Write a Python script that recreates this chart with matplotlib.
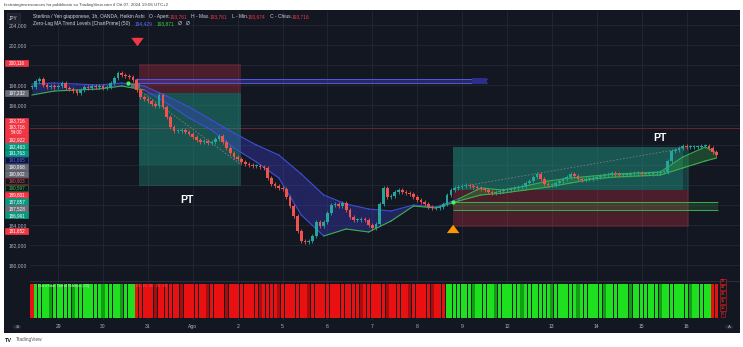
import matplotlib.pyplot as plt
from matplotlib.patches import Rectangle, Circle

W, H = 743, 347
BG = '#131722'
GRID = '#232734'
TXT = '#b2b5be'
UP = '#26a69a'
DN = '#ef5350'

# ---------------- data (2h Heikin Ashi closes, GBP/JPY) ----------------
closes = [
    197.8, 198.4, 198.6, 198.0, 197.8, 197.9, 197.8, 197.9, 198.2, 197.7,
    197.6, 197.4, 197.2, 197.5, 197.8, 197.7, 197.9, 197.8, 197.9, 197.7,
    197.8, 198.2, 198.7, 199.2, 199.0, 198.9, 198.8, 198.5, 197.5, 196.8,
    196.6, 196.4, 196.1, 195.9, 197.0, 195.8, 194.8, 193.8, 193.4, 193.4,
    193.5, 193.3, 193.1, 192.8, 192.5, 192.3, 192.4, 192.2, 192.3, 192.6,
    192.9, 192.3, 191.7, 191.2, 190.8, 190.6, 190.3, 190.1, 190.0, 189.9,
    189.9, 189.8, 189.7, 188.7, 188.1, 187.9, 187.7, 187.6, 186.8, 185.9,
    184.9, 183.4, 182.4, 182.3, 182.4, 182.9, 184.3, 183.9, 184.3, 185.2,
    186.0, 186.1, 185.9, 186.2, 185.5, 184.8, 184.5, 184.5, 184.6, 184.5,
    184.0, 183.7, 184.1, 186.1, 187.7, 186.8, 186.9, 187.3, 187.5, 187.3,
    187.2, 187.1, 186.8, 186.5, 186.3, 186.1, 185.8, 185.7, 185.7, 185.8,
    186.1, 187.0, 187.5, 187.7, 187.8, 187.9, 188.0, 187.9, 187.8, 187.7,
    187.6, 187.5, 187.3, 187.2, 187.3, 187.4, 187.5, 187.5, 187.6, 187.7,
    187.8, 187.9, 188.2, 188.4, 188.8, 189.1, 188.6, 188.1, 188.0, 188.0,
    188.2, 188.4, 188.6, 188.8, 189.1, 188.9, 188.6, 188.5, 188.6, 188.6,
    188.7, 188.8, 188.9, 189.0, 189.1, 189.2, 189.1, 189.0, 189.0, 189.0,
    189.1, 189.2, 189.2, 189.1, 189.1, 189.1, 189.2, 189.2, 189.3, 189.3,
    190.4, 191.4, 191.5, 191.7, 191.9, 191.8, 191.8, 191.8, 191.8, 191.9,
    191.9, 191.7, 191.3, 191.0,
]

# Zero-Lag MA Trend Levels band (anchor bars)
band_idx = [0, 6, 12, 18, 24, 30, 36, 42, 48, 54, 60, 66, 72, 78, 84, 90,
            96, 102, 108, 114, 120, 126, 132, 138, 144, 150, 156, 162, 168,
            174, 180, 183]
band_upper = [198.1, 198.2, 198.1, 198.0, 198.2, 197.9, 196.9, 195.8, 194.5,
              193.2, 192.0, 191.0, 189.1, 187.0, 186.1, 185.6, 185.4, 186.0,
              185.8, 186.6, 187.7, 187.5, 187.9, 188.4, 188.7, 188.9, 189.1,
              189.2, 189.3, 190.8, 191.8, 191.2]
band_lower = [197.0, 197.4, 197.5, 197.6, 197.9, 197.5, 196.2, 194.7, 193.5,
              191.7, 190.3, 188.7, 185.0, 182.9, 183.6, 183.3, 184.4, 185.9,
              185.7, 186.4, 187.0, 187.2, 187.5, 187.8, 188.2, 188.6, 188.8,
              188.9, 189.0, 189.7, 190.4, 190.7]
upper_trend = [-1] * 19 + [1] * 13
lower_trend = [1] * 5 + [-1] * 8 + [1] * 19

# trend levels (boxes)
short_level = (198.17, 198.57, 27.5, 121.7)
long_level = (185.47, 186.30, 112.6, 183.4)

# position tools
short_entry, short_stop, short_tp, short_reach = 197.23, 200.12, 187.86, 190.0
short_span = (28.6, 56.0)
long_entry, long_stop, long_tp = 187.53, 183.80, 191.76
long_span = (112.6, 175.7)
long_hit = 174.1
last_price = 193.716

# Donchian trend ribbon runs (bars, direction)
ribbon_runs = [(1, -1), (27, 1), (83, -1), (71, 1), (2, -1)]
weak_bars = [5, 11, 19, 24, 33, 40, 47, 52, 61, 66, 74, 88, 95, 101, 107,
             118, 124, 131, 139, 146, 153, 160, 168, 176]

day_labels = ['29', '30', '31', 'Ago', '2', '5', '6', '7', '8', '9', '12',
              '13', '14', '15', '16']
price_ticks = [180, 182, 184, 186, 188, 190, 192, 194, 196, 198, 200, 202, 204]
hidden_ticks = [186, 188, 190, 192, 194, 200]

# price scale labels (value, kind) and their stacked pixel rows
label_values = ['200,116', '197,232', '193,716', '193,716\n54:00', '192,922',
                '192,463', '191,763', '191,665', '190,968', '190,902',
                '190,803', '190,597', '189,801', '187,857', '187,528',
                '186,991', '181,652']
label_kinds = ['red', 'gray', 'red', 'red', 'red', 'green', 'green', 'blue_o',
               'gray', 'gray', 'red_o', 'green_o', 'red', 'green', 'gray',
               'green', 'red']
label_rows = [62.7, 92.7, 120.7, 130.0, 139.4, 146.3, 153.2, 160.1, 167.0,
              173.9, 180.8, 187.7, 194.6, 201.5, 208.4, 215.3, 231.0]

plt.rcParams['font.family'] = ['Liberation Sans', 'DejaVu Sans']


def fx(x):
    return x / W


def fy(y):
    return 1 - y / H


fig = plt.figure(figsize=(W / 100, H / 100), dpi=100, facecolor='white')
fig.add_artist(Rectangle((fx(4), fy(333)), fx(740) - fx(4), fy(10) - fy(333),
                         transform=fig.transFigure, facecolor=BG,
                         edgecolor='none', zorder=-10))

ax = fig.add_axes([fx(30), fy(281), fx(740) - fx(30), fy(11) - fy(281)])
ax2 = fig.add_axes([fx(30), fy(320), fx(740) - fx(30), fy(281) - fy(320)])
xlim = (-0.53, 189.3)
day_pos = [7 + 12 * i for i in range(len(day_labels))]

for a in (ax, ax2):
    a.set_facecolor(BG)
    a.set_xlim(*xlim)
    for s in a.spines.values():
        s.set_visible(False)
    for d in day_pos:
        a.axvline(d, color=GRID, lw=0.6, zorder=0)

# ---------------- main pane ----------------
ax.set_ylim(178.4, 205.4)
ax.set_yticks(price_ticks)
ax.set_yticklabels(['' if p in hidden_ticks else f'{p},000' for p in price_ticks])
ax.tick_params(axis='y', length=0, pad=2, labelsize=3.6, labelcolor=TXT)
ax.set_xticks([])
for p in price_ticks:
    ax.axhline(p, color=GRID, lw=0.6, zorder=0)

ax.axhline(last_price, color='#6e2230', lw=0.7, zorder=1)

# position tools
x0, x1 = short_span
ax.add_patch(Rectangle((x0, short_entry), x1 - x0, short_stop - short_entry,
                       facecolor='#f23645', alpha=0.25, lw=0, zorder=1))
ax.add_patch(Rectangle((x0, short_tp), x1 - x0, short_entry - short_tp,
                       facecolor='#22ab94', alpha=0.28, lw=0, zorder=1))
ax.add_patch(Rectangle((x0, short_reach), x1 - x0, short_entry - short_reach,
                       facecolor='#22ab94', alpha=0.18, lw=0, zorder=1))
ax.plot([x0, x1], [short_entry + 0.3, short_reach], color='#787b86', lw=0.6,
        ls=(0, (2, 2)), zorder=3)

x0, x1 = long_span
ax.add_patch(Rectangle((x0, long_stop), x1 - x0, long_entry - long_stop,
                       facecolor='#f23645', alpha=0.25, lw=0, zorder=1))
ax.add_patch(Rectangle((x0, long_entry), long_hit - x0, long_tp - long_entry,
                       facecolor='#22ab94', alpha=0.42, lw=0, zorder=1))
ax.add_patch(Rectangle((long_hit, long_entry), x1 - long_hit,
                       long_tp - long_entry, facecolor='#22ab94', alpha=0.25,
                       lw=0, zorder=1))
ax.plot([x0 + 5, long_hit], [long_entry + 0.5, long_tp - 0.1],
        color='#787b86', lw=0.6, ls=(0, (2, 2)), zorder=3)

# zero-lag band
for j in range(len(band_idx) - 1):
    xs = band_idx[j:j + 2]
    up = band_upper[j:j + 2]
    lo = band_lower[j:j + 2]
    fill = '#3f3fd0' if upper_trend[j] < 0 else '#2e9e45'
    ax.fill_between(xs, lo, up, color=fill, alpha=0.35, lw=0, zorder=2)
    ax.plot(xs, up, color='#3d4fd6' if upper_trend[j] < 0 else '#3cb04e',
            lw=0.8, zorder=3)
    ax.plot(xs, lo, color='#3d4fd6' if lower_trend[j] < 0 else '#3cb04e',
            lw=0.8, zorder=3)

# trend levels
lo, hi, a0, a1 = short_level
ax.fill_between([a0, a1], lo, hi, color='#4a4ad8', alpha=0.35, lw=0, zorder=2)
ax.hlines([lo, hi], a0, a1, color='#5656e0', lw=0.7, zorder=3)
ax.add_patch(Rectangle((a1 - 4, lo - 0.1), 4, hi - lo + 0.2,
                       facecolor='#2b2f8a', lw=0, zorder=3))
lo, hi, a0, a1 = long_level
ax.fill_between([a0, a1], lo, hi, color='#3cb04e', alpha=0.2, lw=0, zorder=2)
ax.hlines([lo, hi], a0, a1, color='#3cb04e', lw=0.7, zorder=3)
ax.add_patch(Rectangle((26.5, 197.7), 2.4, 0.5, facecolor='#6a8a7a',
                       alpha=0.7, lw=0, zorder=4))
ax.plot([25.7, long_level[2]], [198.2, long_level[1]], 'o', ms=2,
        color='#40ff40', zorder=6)

# candles
idx = list(range(len(closes)))
for k in idx:
    c = closes[k]
    o = closes[k - 1] if k else c
    hi = max(o, c) + 0.2
    lo = min(o, c) - 0.2
    col = UP if c >= o else DN
    ax.vlines(k, lo, hi, color=col, lw=0.6, zorder=4)
    ax.bar(k, max(abs(c - o), 0.08), bottom=min(o, c), width=0.72,
           color=col, lw=0, zorder=5)

# markers and texts
ax.annotate('', xy=(28.2, 201.6), xytext=(28.2, 203.0),
            arrowprops=dict(arrowstyle='simple,head_width=0.9,head_length=0.6,tail_width=0.45',
                            color='#f23645', lw=0), zorder=6)
ax.annotate('', xy=(112.6, 184.3), xytext=(112.6, 183.1),
            arrowprops=dict(arrowstyle='simple,head_width=0.9,head_length=0.6,tail_width=0.45',
                            color='#ff9800', lw=0), zorder=6)
ax.text(41.4, 186.5, 'PT', color='white', fontsize=7.5, fontweight='bold',
        ha='center', va='center', zorder=7)
ax.text(167.9, 192.7, 'PT', color='white', fontsize=7.5, fontweight='bold',
        ha='center', va='center', zorder=7)

# ---------------- ribbon pane ----------------
ax2.set_ylim(-0.059, 1.088)
ax2.set_yticks([])
ribbon = []
for n, d in ribbon_runs:
    ribbon += [d] * n
cols = []
for k, d in enumerate(ribbon):
    if d > 0:
        cols.append('#129e12' if k in weak_bars else '#1fe01f')
    else:
        cols.append('#a80c0c' if k in weak_bars else '#e81010')
ax2.bar(idx, 1, bottom=0, width=0.85, color=cols, lw=0, zorder=2)
ax2.axhline(1.088, color='#2a2e39', lw=0.8)
ax2.set_xticks(day_pos)
ax2.set_xticklabels(day_labels)
ax2.tick_params(axis='x', length=0, pad=3.2, labelsize=3.6, labelcolor=TXT)
ax2.text(1.5, 0.93, 'Donchian Trend Ribbon (20)', color='#cfe8cf',
         fontsize=3, va='center', zorder=5)
ax2.text(26.5, 0.93, '5  10  15  20  25  30', color='#ff5050', fontsize=3,
         va='center', zorder=5)
for v, y in zip(['30', '25', '20', '15', '10', '5'],
                [281.5, 287.5, 294, 300.7, 307.7, 314.3]):
    fig.text(fx(723), fy(y), v, color='#ff4040', fontsize=2.8, ha='center',
             va='center', zorder=6,
             bbox=dict(boxstyle='square,pad=0.25', fc=BG, ec='#c01818', lw=0.5))

# ---------------- price scale labels ----------------
kind_style = {
    'red': ('#f23645', '#f23645', 'white'),
    'gray': ('#6a6d78', '#6a6d78', 'white'),
    'green': ('#089981', '#089981', 'white'),
    'blue_o': (BG, '#2a3bd0', '#5566ff'),
    'red_o': (BG, '#9a1c2a', '#e0505a'),
    'green_o': (BG, '#1e7a2a', '#4cc24c'),
}
for txt, kind, y in zip(label_values, label_kinds, label_rows):
    fc, ec, tc = kind_style[kind]
    h = 12.4 if '\n' in txt else 6.2
    fig.add_artist(Rectangle((fx(5), fy(y + h / 2)), fx(28.5) - fx(5),
                             h / H, transform=fig.transFigure, facecolor=fc,
                             edgecolor=ec, lw=0.5, zorder=5))
    fig.text(fx(16.7), fy(y), txt, color=tc, fontsize=3.3, ha='center',
             va='center', linespacing=1.25, zorder=6)

# ---------------- legend / header text ----------------
renderer = fig.canvas.get_renderer()


def chain(x, y, parts, size):
    for s, c in parts:
        t = fig.text(fx(x), fy(y), s, color=c, fontsize=size, ha='left',
                     va='center', zorder=6)
        x += t.get_window_extent(renderer=renderer).width


fig.text(fx(4), fy(5), 'fxstrategiesresources ha pubblicato su TradingView.com '
         'il Ott 07, 2024 19:06 UTC+2', color='#444444', fontsize=3.2,
         ha='left', va='center')
fig.text(fx(13.5), fy(18), 'JPY', color='#d1d4dc', fontsize=3.4, ha='center',
         va='center', zorder=6,
         bbox=dict(boxstyle='square,pad=0.5', fc='#1e222d', ec='#2a2e39', lw=0.5))
LT = '#d1d4dc'
RD = '#f23645'
chain(33, 16.5, [('Sterlina / Yen giapponese, 1h, OANDA, Heikin Ashi   ', LT),
                 ('O - Apert.', LT), ('193,761', RD), ('   H - Max.', LT),
                 ('193,761', RD), ('   L - Min.', LT), ('193,674', RD),
                 ('   C - Chius.', LT), ('193,716', RD)], 3.5)
chain(33, 23.5, [('Zero-Lag MA Trend Levels [ChartPrime] (50)   ', LT),
                 ('194,429', '#5c6bff'), ('   ', LT), ('193,871', '#3bd13b'),
                 ('   Ø   Ø', LT)], 3.5)

# bottom icons and logo
for cx in (17, 729):
    fig.add_artist(Circle((fx(cx), fy(327)), 4 / W, transform=fig.transFigure,
                          facecolor='#2a2e39', edgecolor='none', zorder=5))
fig.text(fx(17), fy(327), '⊘', color=TXT, fontsize=3, ha='center',
         va='center', zorder=6)
fig.text(fx(729), fy(327), 'A', color=TXT, fontsize=3, ha='center',
         va='center', zorder=6)
fig.text(fx(5), fy(340), 'TV', color='#131722', fontsize=4, fontweight='bold',
         ha='left', va='center')
fig.text(fx(16), fy(340), 'TradingView', color='#555555', fontsize=3.4,
         ha='left', va='center')

fig.savefig('out.png', dpi=100, facecolor='white')
